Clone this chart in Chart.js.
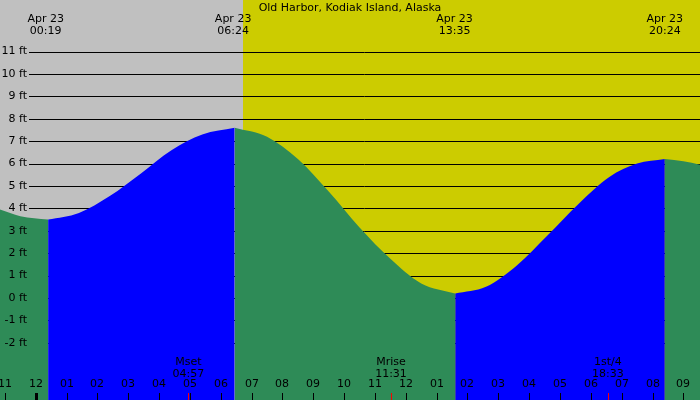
<!DOCTYPE html>
<html><head><meta charset="utf-8">
<script src="https://cdn.jsdelivr.net/npm/chart.js@4/dist/chart.umd.min.js"></script>
<style>html,body{margin:0;padding:0;background:#fff}</style>
</head><body>
<canvas id="c" width="700" height="400"></canvas>
<script>
const title = 'Old Harbor, Kodiak Island, Alaska';
// tide curve pieces: [hour, feet]
const fall0 = [[-1.17,3.95],[-0.5,3.65],[0.4,3.5]];
const rise1 = [[0.4,3.5],[1.4,3.8],[2.4,4.55],[3.4,5.55],[4.4,6.6],[5.4,7.3],[6.45,7.6]];
const fall1 = [[6.45,7.6],[7.5,7.2],[8.5,6.2],[9.5,4.75],[10.5,3.15],[11.5,1.75],[12.5,0.65],[13.6,0.2]];
const rise2 = [[13.6,0.2],[14.6,0.5],[15.6,1.45],[16.6,2.8],[17.6,4.2],[18.6,5.4],[19.5,6.0],[20.4,6.2]];
const fall2 = [[20.4,6.2],[21.0,6.1],[21.54,5.95]];
const extremeHours = [0.32, 6.4, 13.58, 20.4];
const extremeLabels = ['00:19','06:24','13:35','20:24'];
const dayStartHour = 6.72;
const feetTicks = [11,10,9,8,7,6,5,4,3,2,1,0,-1,-2];
const hourTicks = [-1,0,1,2,3,4,5,6,7,8,9,10,11,12,13,14,15,16,17,18,19,20,21];
const hourLabels = ['11','12','01','02','03','04','05','06','07','08','09','10','11','12','01','02','03','04','05','06','07','08','09'];
const moonHours = [4.95, 11.52, 18.55];
const moonNames = ['Mset','Mrise','1st/4'];
const moonTimes = ['04:57','11:31','18:33'];

const toPts = a => a.map(p => ({x:p[0], y:p[1]}));
const BLUE='#0000ff', GREEN='#2e8b57';
const ds = (d,c) => ({data:toPts(d), backgroundColor:c, borderColor:c, borderWidth:0, fill:'start', pointRadius:0, cubicInterpolationMode:'monotone'});

const deco = {
  id:'deco',
  beforeDatasetsDraw(ch){
    const {ctx, scales:{x,y}, chartArea:a} = ch;
    ctx.save();
    ctx.fillStyle='#c0c0c0'; ctx.fillRect(a.left,a.top,a.right-a.left,a.bottom-a.top);
    const xd = x.getPixelForValue(dayStartHour);
    ctx.fillStyle='#cccc00'; ctx.fillRect(xd,a.top,a.right-xd,a.bottom-a.top);
    ctx.strokeStyle='#000'; ctx.lineWidth=1;
    feetTicks.forEach(f=>{const py=Math.round(y.getPixelForValue(f))+0.5; ctx.beginPath(); ctx.moveTo(29,py); ctx.lineTo(a.right,py); ctx.stroke();});
    ctx.restore();
  },
  afterDatasetsDraw(ch){
    const {ctx, scales:{x,y}} = ch;
    ctx.save();
    ctx.font='11px "DejaVu Sans"'; ctx.fillStyle='#000';
    ctx.textAlign='right'; ctx.textBaseline='middle';
    feetTicks.forEach(f=>ctx.fillText(f+' ft',27,y.getPixelForValue(f)));
    ctx.textAlign='center';
    ctx.fillText(title,350,8);
    extremeHours.forEach((h,i)=>{const px=x.getPixelForValue(h); ctx.fillText('Apr 23',px,19); ctx.fillText(extremeLabels[i],px,31);});
    hourTicks.forEach((h,i)=>{const px=Math.round(x.getPixelForValue(h));
      ctx.fillText(hourLabels[i],px,384);
      ctx.fillStyle='#000'; ctx.fillRect(px-(h===0?1:0),393,h===0?3:1,7);});
    moonHours.forEach((h,i)=>{const px=x.getPixelForValue(h);
      ctx.fillStyle='#000'; ctx.fillText(moonNames[i],px,362); ctx.fillText(moonTimes[i],px,374);
      ctx.fillStyle='#ff0000'; ctx.fillRect(Math.round(px),393,1,7);});
    ctx.restore();
  }
};

new Chart(document.getElementById('c'),{
  type:'line',
  data:{datasets:[ds(fall0,GREEN),ds(rise1,BLUE),ds(fall1,GREEN),ds(rise2,BLUE),ds(fall2,GREEN)]},
  options:{responsive:false, animation:false, devicePixelRatio:1,
    layout:{padding:0},
    plugins:{legend:{display:false},tooltip:{enabled:false}},
    scales:{x:{type:'linear',min:-1.16,max:21.54,display:false},y:{min:-4.55,max:13.3,display:false}}},
  plugins:[deco]
});
</script>
</body></html>
